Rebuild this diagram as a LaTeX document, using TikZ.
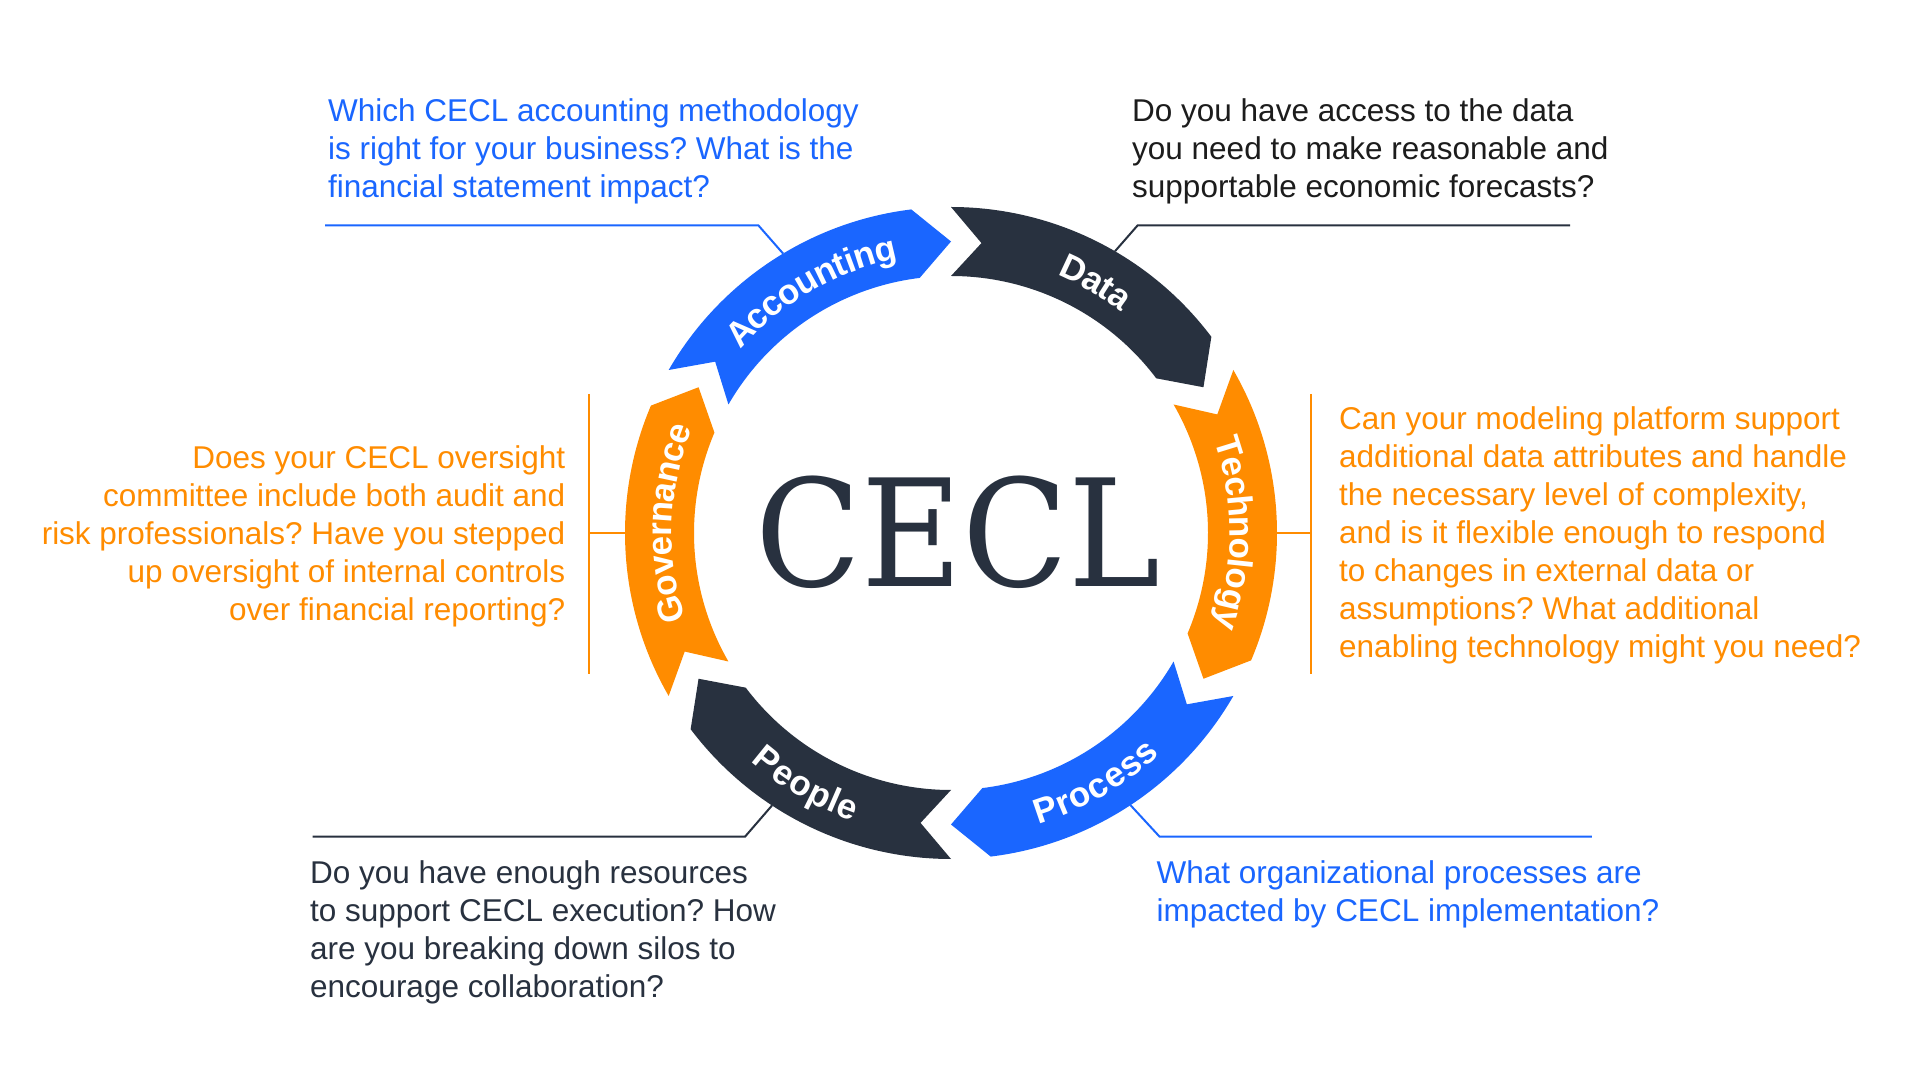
\documentclass[tikz,border=0pt]{standalone}
\usepackage{fontspec}
\setmainfont{Liberation Sans}
\newfontfamily\cecltype{DejaVu Serif}
\usetikzlibrary{decorations.text}
\definecolor{cblue}{HTML}{1A66FF}
\definecolor{cdark}{HTML}{28313F}
\definecolor{corange}{HTML}{FF8C00}
\definecolor{cblack}{HTML}{1C1C1C}
\newcommand\lbl{\fontsize{35}{35}\selectfont\bfseries}
\frenchspacing
\begin{document}
\begin{tikzpicture}[x=1pt,y=1pt,
  qtext/.style={inner sep=0pt, font=\fontsize{31.5}{38}\selectfont},
  lead/.style={line width=2pt},
  arclabel/.style={decorate, decoration={text along path, text align=center, text color=white, raise=-12.5pt, text={|\lbl|#1}}}
]
\useasboundingbox (0,0) rectangle (1920,1080);
\fill[white] (0,0) rectangle (1920,1080);

\begin{scope}[shift={(951,547)}]
  % ring segments (clockwise arrows)
  \foreach \T/\c in {150/cblue,90/cdark,30/corange,-30/cblue,-90/cdark,-150/corange}{
    \fill[\c] (\T:326) arc[start angle=\T, end angle=\T-53, radius=326]
      -- (\T-60:291.5) -- (\T-53:257)
      arc[start angle=\T-53, end angle=\T, radius=257]
      -- (\T-6:291.5) -- cycle;
  }
  % labels along the ring
  \path[arclabel=Accounting] (160:291.5) arc[start angle=160, end angle=80, radius=291.5];
  \path[arclabel=Data] (100:291.5) arc[start angle=100, end angle=20, radius=291.5];
  \path[arclabel=Technology] (40:291.5) arc[start angle=40, end angle=-40, radius=291.5];
  \path[arclabel=Governance] (218:291.5) arc[start angle=218, end angle=138, radius=291.5];
  \path[arclabel=Process] (-100:291.5) arc[start angle=-100, end angle=-20, radius=291.5];
  \path[arclabel=People] (-160:291.5) arc[start angle=-160, end angle=-80, radius=291.5];
  % leader anchor points on the ring
  \coordinate (accR) at (121:326);
  \coordinate (dataR) at (59.8:326);
  \coordinate (govR) at (180:326);
  \coordinate (techR) at (0:326);
  \coordinate (peoR) at (-123.3:326);
  \coordinate (proR) at (-56.6:326);
\end{scope}

\node[anchor=base, text=cdark, font=\cecltype\fontsize{149}{149}\selectfont, inner sep=0pt, xscale=0.93, transform shape] (cecl) at (958,493.3) {CECL};

% question texts
\node[qtext, anchor=north west, align=left, text=cblue] (accQ) at (328,982)
  {Which CECL accounting methodology\\is right for your business? What is the\\financial statement impact?};
\node[qtext, anchor=north west, align=left, text=cblack] (dataQ) at (1132,982)
  {Do you have access to the data\\you need to make reasonable and\\supportable economic forecasts?};
\node[qtext, anchor=north east, align=right, text=corange] (govQ) at (565.5,635)
  {Does your CECL oversight\\committee include both audit and\hspace*{0.28em}\\risk professionals? Have you stepped\\up oversight of internal controls\\over financial reporting?};
\node[qtext, anchor=north west, align=left, text=corange] (techQ) at (1339,674)
  {Can your modeling platform support\\additional data attributes and handle\\the necessary level of complexity,\\and is it flexible enough to respond\\to changes in external data or\\assumptions? What additional\\enabling technology might you need?};
\node[qtext, anchor=north west, align=left, text=cdark] (peoQ) at (310,219.5)
  {Do you have enough resources\\to support CECL execution? How\\are you breaking down silos to\\encourage collaboration?};
\node[qtext, anchor=north west, align=left, text=cblue] (proQ) at (1156.5,220)
  {What organizational processes are\\impacted by CECL implementation?};

% leader lines
\coordinate (accK) at (758.3,854.7);
\coordinate (accE) at (325,854.7);
\draw[lead, cblue] (accR) -- (accK) -- (accE);

\coordinate (dataK) at (1137.7,854.7);
\coordinate (dataE) at (1570,854.7);
\draw[lead, cdark] (dataR) -- (dataK) -- (dataE);

\coordinate (govK) at (589.4,547);
\coordinate (govT) at (589.4,686);
\coordinate (govB) at (589.4,406);
\draw[lead, corange] (govR) -- (govK);
\draw[lead, corange] (govT) -- (govB);

\coordinate (techK) at (1311,547);
\coordinate (techT) at (1311,686);
\coordinate (techB) at (1311,406);
\draw[lead, corange] (techR) -- (techK);
\draw[lead, corange] (techT) -- (techB);

\coordinate (peoK) at (745,243.3);
\coordinate (peoE) at (312.7,243.3);
\draw[lead, cdark] (peoR) -- (peoK) -- (peoE);

\coordinate (proK) at (1159.6,243.3);
\coordinate (proE) at (1591.8,243.3);
\draw[lead, cblue] (proR) -- (proK) -- (proE);
\end{tikzpicture}
\end{document}
